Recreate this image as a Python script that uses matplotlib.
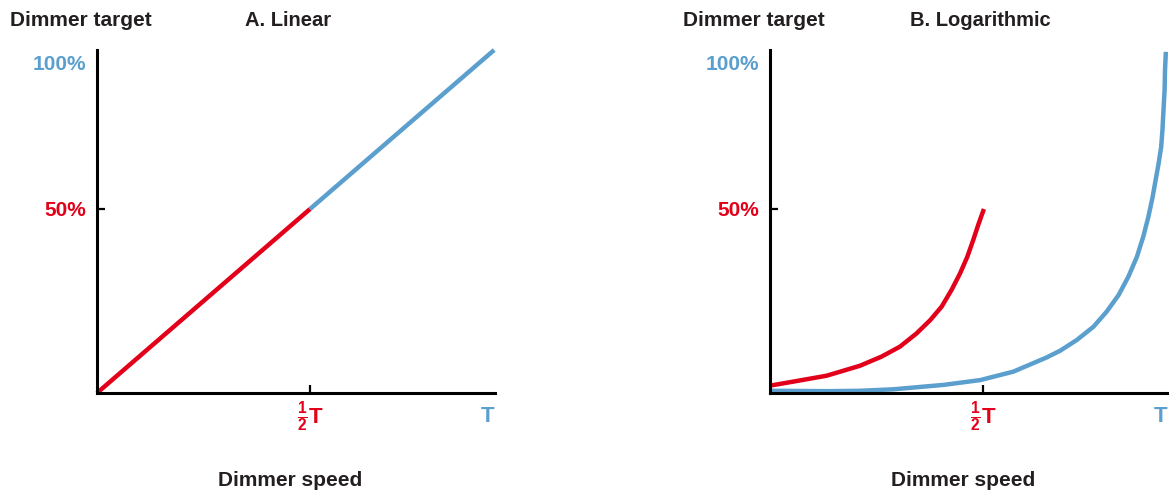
import matplotlib
matplotlib.use('Agg')
import matplotlib.pyplot as plt

plt.rcParams['font.family'] = ['Liberation Sans', 'DejaVu Sans']
plt.rcParams['font.weight'] = 'bold'
plt.rcParams['mathtext.fontset'] = 'custom'
plt.rcParams['mathtext.bf'] = 'Liberation Sans:bold'
plt.rcParams['mathtext.rm'] = 'Liberation Sans:bold'

RED = '#e2001a'
BLUE = '#5a9fcd'

# panel A: straight line, red up to half, blue after
lin_red_x = [0.0, 0.5]
lin_red_y = [0.0, 0.5]
lin_blue_x = [0.5, 0.932]
lin_blue_y = [0.5, 0.932]

# panel B: curves
log_red_x = [0.0, 0.055, 0.133, 0.211, 0.262, 0.305, 0.344, 0.376, 0.403, 0.426,
             0.446, 0.463, 0.477, 0.489, 0.502]
log_red_y = [0.020, 0.031, 0.047, 0.074, 0.099, 0.126, 0.162, 0.198, 0.235, 0.280,
             0.325, 0.370, 0.416, 0.458, 0.500]
log_blue_x = [0.0, 0.133, 0.211, 0.289, 0.407, 0.493, 0.571, 0.650, 0.681, 0.720, 0.759,
              0.790, 0.818, 0.841, 0.861, 0.876, 0.888, 0.898, 0.905, 0.912, 0.918,
              0.921, 0.923, 0.926, 0.927, 0.929]
log_blue_y = [0.006, 0.005, 0.006, 0.010, 0.022, 0.035, 0.058, 0.097, 0.115, 0.144, 0.180,
              0.221, 0.266, 0.316, 0.370, 0.425, 0.479, 0.533, 0.579, 0.624, 0.669,
              0.715, 0.760, 0.823, 0.878, 0.927]

xtick_pos = [0.5, 0.917]
xtick_lab = [r'$\mathbf{\frac{1}{2}}$T', 'T']
ytick_pos = [0.5, 0.897]
ytick_lab = ['50%', '100%']

W, H = 1169, 492
fig = plt.figure(figsize=(W / 100, H / 100), dpi=100)

def px(x0, y0, x1, y1):
    return [x0 / W, 1 - y1 / H, (x1 - x0) / W, (y1 - y0) / H]

axA = fig.add_axes(px(97, 50, 495, 393))
axB = fig.add_axes(px(770, 50, 1168, 393))

kw = dict(lw=3.2, solid_capstyle='butt', solid_joinstyle='round', clip_on=False, zorder=3)
axA.plot(lin_red_x, lin_red_y, color=RED, **kw)
axA.plot(lin_blue_x, lin_blue_y, color=BLUE, **kw)
axB.plot(log_red_x, log_red_y, color=RED, **kw)
axB.plot(log_blue_x, log_blue_y, color=BLUE, **kw)

for ax in (axA, axB):
    ax.set_xlim(0, 0.934)
    ax.set_ylim(0, 0.932)
    ax.spines['top'].set_visible(False)
    ax.spines['right'].set_visible(False)
    for s in ('left', 'bottom'):
        ax.spines[s].set_linewidth(2.2)
        ax.spines[s].set_zorder(4)
    ax.set_xticks(xtick_pos)
    ax.set_xticklabels(xtick_lab, fontsize=16, fontweight='bold', va='center')
    ax.set_yticks(ytick_pos)
    ax.set_yticklabels(ytick_lab, fontsize=15, fontweight='bold')
    ax.tick_params(direction='in', length=6, width=1.6, pad=8)
    ax.tick_params(axis='x', pad=17)
    ax.xaxis.get_major_ticks()[1].tick1line.set_visible(False)
    ax.yaxis.get_major_ticks()[1].tick1line.set_visible(False)
    labs = ax.get_xticklabels()
    labs[0].set_color(RED)
    labs[1].set_color(BLUE)
    labs = ax.get_yticklabels()
    labs[0].set_color(RED)
    labs[1].set_color(BLUE)

fs = 15
fig.text(10 / W, 1 - 20 / H, 'Dimmer target', fontsize=fs, fontweight='bold', color='#231f20', va='center', ha='left')
fig.text(288 / W, 1 - 20 / H, 'A. Linear', fontsize=14.5, fontweight='bold', color='#231f20', va='center', ha='center')
fig.text(290 / W, 1 - 480 / H, 'Dimmer speed', fontsize=fs, fontweight='bold', color='#231f20', va='center', ha='center')
fig.text(683 / W, 1 - 20 / H, 'Dimmer target', fontsize=fs, fontweight='bold', color='#231f20', va='center', ha='left')
fig.text(980 / W, 1 - 20 / H, 'B. Logarithmic', fontsize=14.5, fontweight='bold', color='#231f20', va='center', ha='center')
fig.text(963 / W, 1 - 480 / H, 'Dimmer speed', fontsize=fs, fontweight='bold', color='#231f20', va='center', ha='center')

fig.savefig('out.png', dpi=100)
